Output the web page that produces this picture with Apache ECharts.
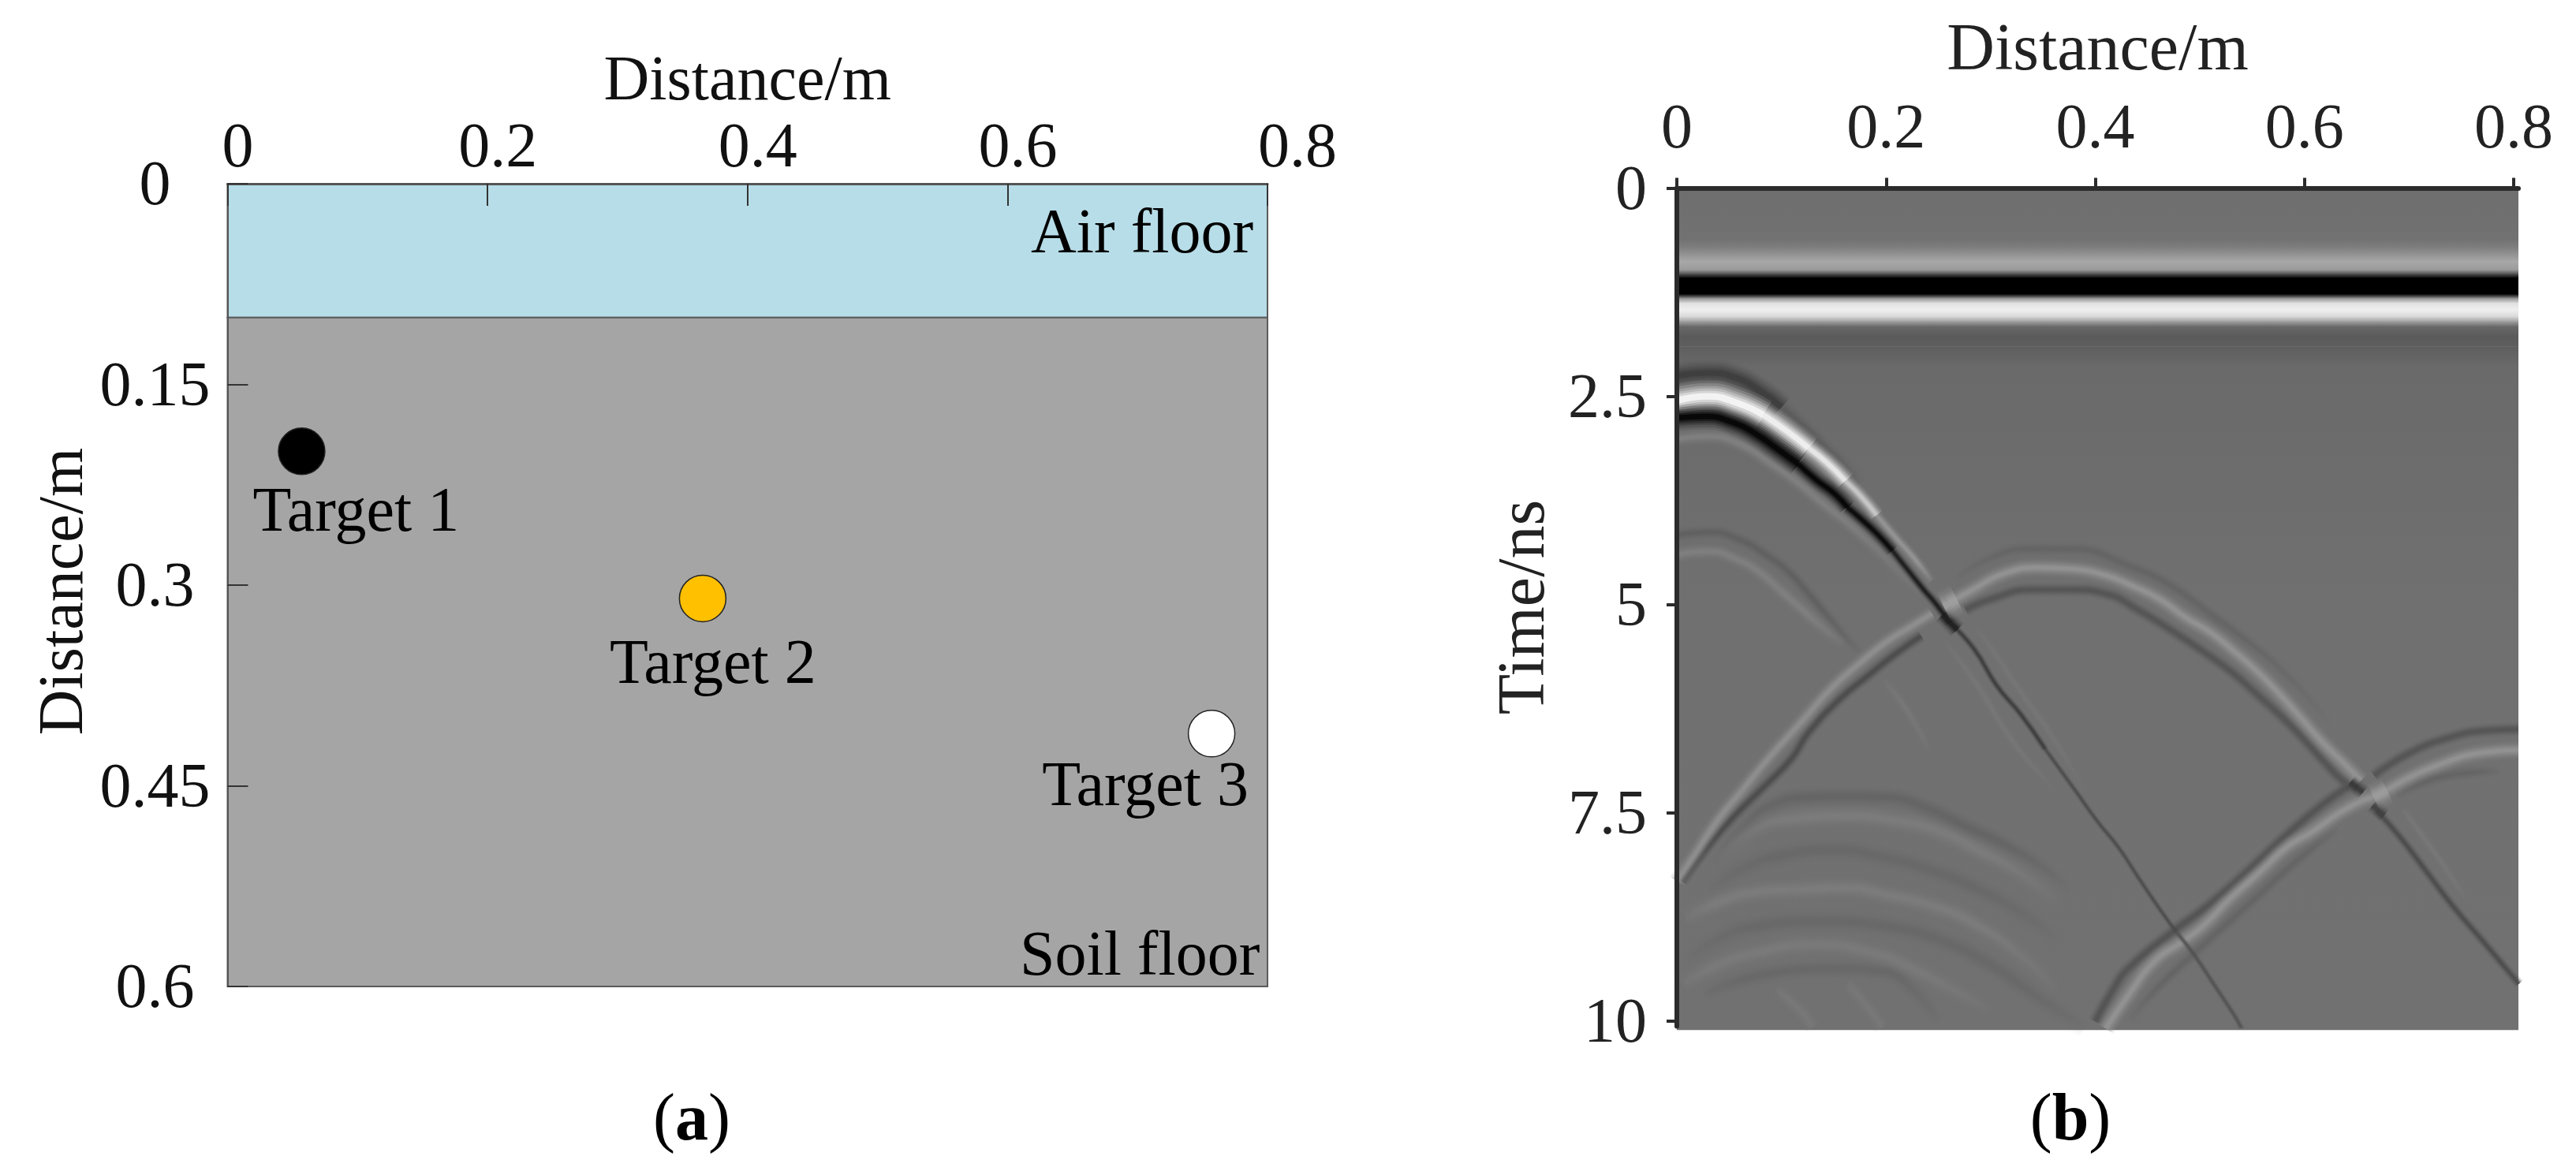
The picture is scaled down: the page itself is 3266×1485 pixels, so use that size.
<!DOCTYPE html>
<html>
<head>
<meta charset="utf-8">
<style>
  html, body { margin: 0; padding: 0; background: #fff; }
  #chart { width: 3266px; height: 1485px; }
</style>
<script src="https://cdn.jsdelivr.net/npm/echarts@6/dist/echarts.min.js"></script>
</head>
<body>
<div id="chart"></div>
<script>
// model panel (a)
const layerNames = ['Air floor', 'Soil floor']
const layerTops = [0, 0.1]
const layerBottoms = [0.1, 0.6]
const layerColors = ['#b7dde8', '#a5a5a5']
const layerLabelPos = [[0.7036, 0.039], [0.7018, 0.579]]
const targetNames = ['Target 1', 'Target 2', 'Target 3']
const targetX = [0.057, 0.3655, 0.757]
const targetDepth = [0.2, 0.31, 0.411]
const targetColors = ['#000000', '#ffc000', '#ffffff']

// radargram panel (b)
const scanDistTicks = [0, 0.2, 0.4, 0.6, 0.8]
const scanTimeTicks = [0, 2.5, 5, 7.5, 10]
// horizontal direct wave: time and grey level read down the image
const bandTimes = [0, 0.4, 0.62, 0.72, 0.88, 0.98, 1.03, 1.08, 1.27, 1.32, 1.38, 1.46, 1.54, 1.6, 1.66, 1.78, 1.9, 2.15, 5, 10.1]
const bandGreys = [110, 112, 114, 128, 168, 154, 80, 0, 0, 144, 224, 240, 216, 160, 104, 90, 94, 106, 112, 113]

// reflections, [distance, time] read along each strand
const t1HaloA = [[0, 2.25], [0.03, 2.22], [0.055, 2.27], [0.08, 2.44], [0.1, 2.63]]
const t1HaloB = [[0.1, 2.63], [0.12, 2.85], [0.14, 3.1], [0.16, 3.32], [0.176, 3.545]]
const t1WhiteA = [[0, 2.55], [0.03, 2.5], [0.058, 2.58], [0.083, 2.725]]
const t1WhiteA2 = [[0.083, 2.725], [0.105, 2.915], [0.126, 3.12]]
const t1WhiteB = [[0.126, 3.12], [0.143, 3.29], [0.161, 3.515]]
const t1WhiteC = [[0.161, 3.515], [0.176, 3.7], [0.191, 3.925]]
const t1WhiteD = [[0.191, 3.925], [0.208, 4.175], [0.226, 4.43], [0.244, 4.71]]
const t1WhiteE = [[0.284, 5.25], [0.301, 5.53], [0.326, 6.0], [0.362, 6.64], [0.39, 7.25]]
const t1BlackA = [[0, 2.757], [0.028, 2.741], [0.055, 2.82], [0.075, 2.946], [0.095, 3.12], [0.116, 3.31]]
const t1BlackB = [[0.116, 3.31], [0.133, 3.5], [0.151, 3.67], [0.163, 3.83]]
const t1BlackC = [[0.163, 3.83], [0.176, 3.97], [0.191, 4.145], [0.206, 4.35]]
const t1BlackD = [[0.206, 4.35], [0.221, 4.586], [0.236, 4.82], [0.247, 4.98], [0.261, 5.217]]
const t1BlackE = [[0.261, 5.217], [0.284, 5.53], [0.306, 5.975], [0.329, 6.32], [0.352, 6.73]]
const t1BlackF = [[0.352, 6.73], [0.382, 7.25], [0.402, 7.6], [0.422, 7.91], [0.442, 8.29], [0.4625, 8.67], [0.477, 8.92]]
const t1BlackG = [[0.477, 8.92], [0.495, 9.21], [0.513, 9.55], [0.533, 9.93], [0.54, 10.09]]
const t1Under = [[0, 3.01], [0.03, 2.98], [0.063, 3.09], [0.088, 3.29], [0.113, 3.51], [0.138, 3.77], [0.163, 4.02], [0.188, 4.3], [0.213, 4.62], [0.234, 4.9]]
const t1Parallel = [[0.256, 5.44], [0.289, 6.0], [0.321, 6.64], [0.36, 7.2]]

const t2LightL = [[0, 8.32], [0.015, 8.04], [0.04, 7.57], [0.063, 7.22], [0.088, 6.84], [0.1205, 6.385], [0.148, 6.0], [0.176, 5.69], [0.201, 5.44], [0.2235, 5.265], [0.244, 5.107]]
const t2LightT = [[0.261, 4.98], [0.284, 4.81], [0.314, 4.62], [0.347, 4.555], [0.377, 4.57], [0.4105, 4.65], [0.4356, 4.775], [0.461, 4.93], [0.486, 5.15], [0.511, 5.34], [0.536, 5.595], [0.556, 5.815], [0.576, 6.07], [0.596, 6.35], [0.616, 6.635], [0.6365, 6.89], [0.654, 7.11]]
const t2LightR = [[0.694, 7.46], [0.722, 7.93], [0.7545, 8.53]]
const t2DarkL = [[0.005, 8.32], [0.033, 7.85], [0.055, 7.535], [0.083, 7.19], [0.11, 6.84], [0.1256, 6.54], [0.156, 6.13], [0.183, 5.85], [0.208, 5.6], [0.2335, 5.375]]
const t2DarkT = [[0.276, 5.06], [0.301, 4.93], [0.339, 4.82], [0.377, 4.82], [0.4105, 4.87], [0.4406, 5.06], [0.473, 5.31], [0.503, 5.56], [0.531, 5.815], [0.554, 6.07], [0.576, 6.32], [0.596, 6.57], [0.619, 6.89], [0.6365, 7.11], [0.6503, 7.2]]
const t2DarkR = [[0.669, 7.47], [0.692, 7.8], [0.717, 8.21], [0.742, 8.62], [0.77, 9.03], [0.805, 9.55]]
const t2Upper = [[0.264, 4.71], [0.301, 4.43], [0.339, 4.33], [0.377, 4.33], [0.4356, 4.55], [0.473, 4.775], [0.511, 5.12], [0.549, 5.47], [0.586, 5.88], [0.624, 6.415]]

const t3Light = [[0.41, 10.09], [0.432, 9.68], [0.4575, 9.27], [0.4826, 9.05], [0.5027, 8.86], [0.5278, 8.54], [0.558, 8.2], [0.583, 7.91], [0.608, 7.72], [0.633, 7.5], [0.6534, 7.36], [0.672, 7.27], [0.699, 7.08], [0.732, 6.905], [0.762, 6.79], [0.8045, 6.745]]
const t3DarkA = [[0.4, 10.0], [0.417, 9.62], [0.432, 9.36], [0.4776, 8.89], [0.5077, 8.61], [0.5454, 8.2], [0.583, 7.76], [0.616, 7.41], [0.641, 7.19]]
const t3DarkB = [[0.6666, 7.05], [0.699, 6.79], [0.737, 6.6], [0.7746, 6.51], [0.8045, 6.495]]
const t3DarkLow = [[0.4324, 9.99], [0.4575, 9.62], [0.495, 9.18], [0.5454, 8.61], [0.596, 8.04], [0.633, 7.69]]
const t3DarkTail = [[0.687, 7.3], [0.737, 7.05], [0.787, 7.0]]

// bright and dark spots where two reflections cross
const crossLightA = [[0.255, 5.02], [0.268, 4.94]]
const crossDarkA = [[0.254, 5.12], [0.268, 5.3]]
const crossLightB = [[0.666, 7.31], [0.679, 7.23]]
const crossDarkB = [[0.644, 7.13], [0.656, 7.25]]
const crossDarkC = [[0.665, 7.41], [0.676, 7.53]]

const echoDarkA = [[0, 4.16], [0.033, 4.13], [0.06, 4.22], [0.085, 4.4], [0.108, 4.62], [0.128, 4.9], [0.148, 5.19], [0.163, 5.41], [0.176, 5.565]]
const echoLightA = [[0, 4.4], [0.03, 4.36], [0.058, 4.46], [0.08, 4.62], [0.1, 4.84], [0.12, 5.06], [0.14, 5.28], [0.16, 5.47]]
const echoLightA2 = [[0.198, 5.91], [0.221, 6.29], [0.241, 6.73]]
const echoDarkB = [[0.033, 8.1], [0.063, 7.66], [0.095, 7.38], [0.126, 7.31], [0.163, 7.3], [0.2, 7.31], [0.239, 7.44], [0.276, 7.66], [0.314, 7.88], [0.352, 8.17], [0.377, 8.42]]
const echoLightB = [[0.038, 8.04], [0.075, 7.69], [0.113, 7.57], [0.163, 7.535], [0.213, 7.6], [0.251, 7.72], [0.289, 7.95], [0.326, 8.2], [0.364, 8.55]]
const echoDarkC = [[0.03, 8.42], [0.063, 8.17], [0.1, 8.01], [0.151, 7.945], [0.2, 8.04], [0.239, 8.17], [0.289, 8.42], [0.326, 8.67], [0.364, 9.02]]
const echoLightC = [[0.0075, 8.765], [0.038, 8.58], [0.075, 8.45], [0.113, 8.42], [0.163, 8.4], [0.2, 8.48], [0.251, 8.64], [0.289, 8.86], [0.326, 9.18], [0.364, 9.62]]
const echoDarkD = [[0.0075, 9.27], [0.038, 9.02], [0.075, 8.86], [0.138, 8.8], [0.2, 8.86], [0.251, 9.02], [0.301, 9.33], [0.35, 9.75], [0.39, 10.06]]
const echoLightD = [[0.005, 9.55], [0.038, 9.33], [0.075, 9.18], [0.133, 9.08], [0.188, 9.18], [0.226, 9.37], [0.264, 9.62], [0.301, 9.87]]
const echoDarkE = [[0.025, 9.68], [0.075, 9.46], [0.151, 9.37], [0.196, 9.4], [0.226, 9.62], [0.251, 10.0]]
const echoLightE = [[0.095, 9.62], [0.118, 9.87], [0.13, 10.07]]
const echoLightF = [[0.163, 9.55], [0.183, 9.84], [0.196, 10.07]]

const serif = 'Liberation Serif'
const scanMaxX = 0.8045
const scanMaxT = 10.06

// [points, grey, width, fade in, fade out] painted back to front
const strands = [
  [echoDarkE, 104, 16, 0.2, 0.2], [echoLightE, 120, 12, 0.3, 0], [echoLightF, 120, 12, 0.3, 0],
  [echoDarkD, 104, 18, 0.2, 0.2], [echoLightD, 122, 16, 0.1, 0.25],
  [echoDarkC, 104, 18, 0.2, 0.25], [echoLightC, 124, 16, 0.1, 0.25],
  [echoLightB, 124, 17, 0.25, 0.25], [echoDarkB, 100, 16, 0.25, 0.25],
  [echoDarkA, 96, 11, 0, 0.25], [echoLightA, 128, 12, 0, 0.25], [echoLightA2, 120, 8, 0.4, 0.4],
  [t1Under, 128, 12, 0, 0.4], [t1Parallel, 119, 7, 0.3, 0.4],
  [t3DarkLow, 100, 11, 0.2, 0.2], [t3DarkTail, 100, 11, 0.3, 0.3], [t3DarkA, 82, 11, 0, 0], [t3DarkB, 84, 11, 0, 0], [t3Light, 148, 14, 0, 0],
  [t2Upper, 100, 11, 0.2, 0.3], [t2DarkL, 76, 10, 0, 0], [t2DarkT, 84, 11, 0, 0], [t2DarkR, 76, 8, 0, 0], [t2LightR, 120, 7, 0.2, 0.4],
  [t2LightL, 144, 13, 0, 0], [t2LightT, 148, 14, 0, 0],
  [t1HaloB, 92, 14, 0, 0.5], [t1HaloA, 60, 20, 0, 0],
  [t1WhiteE, 118, 7, 0.3, 0.4], [t1WhiteD, 150, 9, 0, 0.3], [t1WhiteC, 205, 12, 0, 0], [t1WhiteB, 240, 16, 0, 0], [t1WhiteA2, 250, 20, 0, 0], [t1WhiteA, 255, 24, 0, 0],
  [t1BlackG, 82, 5, 0, 0], [t1BlackF, 76, 5, 0, 0], [t1BlackE, 60, 6, 0, 0], [t1BlackD, 26, 8, 0, 0], [t1BlackC, 6, 11, 0, 0], [t1BlackB, 0, 14, 0, 0], [t1BlackA, 0, 19, 0, 0],
  [crossDarkB, 56, 12, 0, 0], [crossDarkC, 64, 12, 0, 0], [crossLightB, 156, 22, 0, 0],
  [crossDarkA, 32, 14, 0, 0], [crossLightA, 160, 24, 0, 0]
]

// each strand is stroked several times, wide and faint to narrow and solid, for the soft edge of the image
const softness = [[1.7, 0.08], [1.4, 0.14], [1.1, 0.2], [0.85, 0.28], [0.6, 0.4], [0.35, 0.7]]

const greyOf = g => 'rgb(' + g + ',' + g + ',' + g + ')'
const greyClear = g => 'rgba(' + g + ',' + g + ',' + g + ',0)'

function strandColor(grey, fadeIn, fadeOut) {
  if (!fadeIn && !fadeOut) return greyOf(grey)
  return new echarts.graphic.LinearGradient(0, 0, 1, 0, [
    { offset: 0, color: fadeIn ? greyClear(grey) : greyOf(grey) },
    { offset: fadeIn || 0, color: greyOf(grey) },
    { offset: 1 - (fadeOut || 0), color: greyOf(grey) },
    { offset: 1, color: fadeOut ? greyClear(grey) : greyOf(grey) }
  ])
}

const strandSeries = strands.flatMap(([pts, grey, width, fadeIn, fadeOut]) => softness.map(([scale, alpha]) => ({
  type: 'line',
  xAxisIndex: 1,
  yAxisIndex: 1,
  data: pts,
  smooth: 0.5,
  showSymbol: false,
  silent: true,
  z: 3,
  lineStyle: { color: strandColor(grey, fadeIn, fadeOut), width: width * scale, opacity: alpha, cap: 'butt' }
})))

const chart = echarts.init(document.getElementById('chart'))

const axisText = { fontFamily: serif, fontSize: 80, color: '#111' }
const panelRich = {
  p: { fontFamily: serif, fontSize: 84, fontWeight: 'normal', color: '#000' },
  b: { fontFamily: serif, fontSize: 84, fontWeight: 'bold', color: '#000' }
}

chart.setOption({
  animation: false,
  backgroundColor: '#fff',
  title: [
    { text: '{p|(}{b|a}{p|)}', left: 872, top: 1376, textAlign: 'center', textStyle: { fontWeight: 'normal', rich: panelRich } },
    { text: '{p|(}{b|b}{p|)}', left: 2620, top: 1376, textAlign: 'center', textStyle: { fontWeight: 'normal', rich: panelRich } }
  ],
  grid: [
    { left: 288.5, top: 233, width: 1318.5, height: 1018, outerBoundsMode: 'none' },
    { left: 2126, top: 238.5, width: 1067, height: 1063, outerBoundsMode: 'none' }
  ],
  xAxis: [
    {
      type: 'value', gridIndex: 0, position: 'top', min: 0, max: 0.8, interval: 0.2, z: 10,
      name: 'Distance/m', nameLocation: 'middle', nameGap: 88,
      nameTextStyle: { fontFamily: serif, fontSize: 80, color: '#111' },
      splitLine: { show: false },
      axisLine: { lineStyle: { color: '#555', width: 3 } },
      axisTick: { inside: true, length: 28, lineStyle: { color: '#333', width: 2 } },
      axisLabel: {
        ...axisText, margin: 3, padding: [0, 0, 0, 26], hideOverlap: false,
        formatter: v => v === 0.8 ? '{last|0.8}' : String(v),
        rich: { last: { ...axisText, padding: [0, 0, 0, 50] } }
      }
    },
    {
      type: 'value', gridIndex: 1, position: 'top', min: 0, max: scanMaxX, z: 10,
      name: 'Distance/m', nameLocation: 'middle', nameGap: 131,
      nameTextStyle: { fontFamily: serif, fontSize: 84, color: '#222' },
      splitLine: { show: false },
      axisLine: { lineStyle: { color: '#2b2b2b', width: 6 } },
      axisTick: { length: 13, customValues: scanDistTicks, lineStyle: { color: '#2b2b2b', width: 4 } },
      axisLabel: { ...axisText, color: '#222', margin: 33, customValues: scanDistTicks, hideOverlap: false }
    }
  ],
  yAxis: [
    {
      type: 'value', gridIndex: 0, inverse: true, min: 0, max: 0.6, interval: 0.15, z: 10,
      name: 'Distance/m', nameLocation: 'middle', nameGap: 166, nameRotate: 90,
      nameTextStyle: { fontFamily: serif, fontSize: 80, color: '#111', padding: [0, 16, 0, 0] },
      splitLine: { show: false },
      axisLine: { lineStyle: { color: '#555', width: 2 } },
      axisTick: { inside: true, length: 26, lineStyle: { color: '#333', width: 2 } },
      axisLabel: { ...axisText, margin: 92, align: 'center', verticalAlign: 'top', lineHeight: 10, hideOverlap: false }
    },
    {
      type: 'value', gridIndex: 1, inverse: true, min: 0, max: scanMaxT, z: 10,
      name: 'Time/ns', nameLocation: 'middle', nameGap: 149, nameRotate: 90,
      nameTextStyle: { fontFamily: serif, fontSize: 84, color: '#222' },
      splitLine: { show: false },
      axisLine: { lineStyle: { color: '#2b2b2b', width: 6 } },
      axisTick: { length: 13, customValues: scanTimeTicks, lineStyle: { color: '#2b2b2b', width: 4 } },
      axisLabel: { ...axisText, color: '#222', margin: 38, verticalAlign: 'top', lineHeight: 10, customValues: scanTimeTicks, hideOverlap: false }
    }
  ],
  series: [
    {
      // soil and air layers
      type: 'custom',
      xAxisIndex: 0,
      yAxisIndex: 0,
      silent: true,
      z: 1,
      data: layerTops.map((top, i) => [top, layerBottoms[i], i]),
      renderItem: (params, api) => {
        const a = api.coord([0, api.value(0)])
        const b = api.coord([0.8, api.value(1)])
        return {
          type: 'rect',
          shape: { x: a[0], y: a[1], width: b[0] - a[0], height: b[1] - a[1] },
          style: { fill: layerColors[api.value(2)], stroke: '#5a5a5a', lineWidth: 2 }
        }
      }
    },
    {
      type: 'scatter',
      xAxisIndex: 0,
      yAxisIndex: 0,
      symbolSize: 0,
      silent: true,
      z: 4,
      itemStyle: { opacity: 1 },
      data: layerNames.map((name, i) => ({ name: name, value: layerLabelPos[i] })),
      label: { show: true, position: 'inside', formatter: '{b}', ...axisText, color: '#000' }
    },
    {
      type: 'scatter',
      xAxisIndex: 0,
      yAxisIndex: 0,
      symbolSize: 59,
      silent: true,
      z: 5,
      data: targetNames.map((name, i) => ({
        name: name,
        value: [targetX[i], targetDepth[i]],
        itemStyle: { color: targetColors[i], borderColor: '#222', borderWidth: 1.5, opacity: 1 },
        label: { offset: [[69, 80], [13, 86], [-84, 70]][i] }
      })),
      label: { show: true, position: 'inside', formatter: '{b}', ...axisText, color: '#000' }
    },
    {
      // direct wave drawn as a stack of gradient strips down the time axis
      type: 'custom',
      xAxisIndex: 1,
      yAxisIndex: 1,
      silent: true,
      z: 1,
      data: bandTimes.slice(1).map((t, i) => [bandTimes[i], t, bandGreys[i], bandGreys[i + 1]]),
      renderItem: (params, api) => {
        const a = api.coord([0, api.value(0)])
        const b = api.coord([scanMaxX, api.value(1)])
        return {
          type: 'rect',
          shape: { x: a[0], y: a[1], width: b[0] - a[0], height: b[1] - a[1] + 0.6 },
          style: {
            fill: new echarts.graphic.LinearGradient(0, 0, 0, 1, [
              { offset: 0, color: greyOf(api.value(2)) },
              { offset: 1, color: greyOf(api.value(3)) }
            ])
          }
        }
      }
    },
    ...strandSeries
  ]
})
</script>
</body>
</html>
